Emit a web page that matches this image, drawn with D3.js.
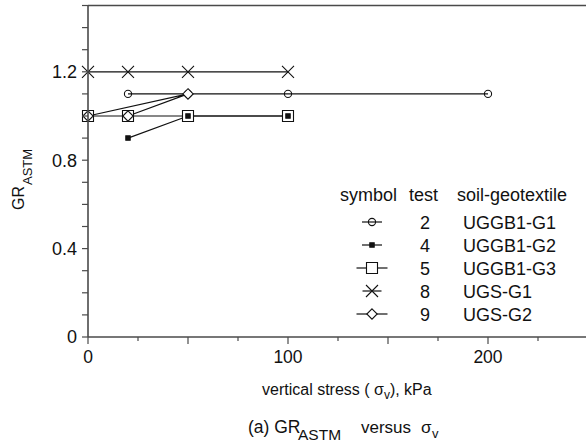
<!DOCTYPE html>
<html>
<head>
<meta charset="utf-8">
<script src="https://cdn.jsdelivr.net/npm/d3@7"></script>
<style>
  html, body { margin: 0; padding: 0; background: #fff; }
  svg { display: block; }
  text { font-family: Arial, "Liberation Sans", sans-serif; fill: #111; }
</style>
</head>
<body>
<svg id="chart" width="586" height="447"></svg>
<script>
// GR_ASTM measured at each vertical stress (kPa) for every test
const stress2 = [20, 50, 100, 200];
const gr2     = [1.1, 1.1, 1.1, 1.1];
const stress4 = [20, 50, 100];
const gr4     = [0.9, 1.0, 1.0];
const stress5 = [0, 20, 50, 100];
const gr5     = [1.0, 1.0, 1.0, 1.0];
const stress8 = [0, 20, 50, 100];
const gr8     = [1.2, 1.2, 1.2, 1.2];
const stress9 = [0, 50, 20];
const gr9     = [1.0, 1.1, 1.0];

const testIds   = ["2", "4", "5", "8", "9"];
const soilNames = ["UGGB1-G1", "UGGB1-G2", "UGGB1-G3", "UGS-G1", "UGS-G2"];
const markers   = ["circle", "dot", "square", "cross", "diamond"];

const xTickLabels = [0, 100, 200];
const yTickLabels = [0, 0.4, 0.8, 1.2];

const svg = d3.select("#chart");
const x = d3.scaleLinear().domain([0, 250]).range([88, 588]);
const y = d3.scaleLinear().domain([0, 1.5]).range([337, 5.5]);

const axisColor = "#4a4a4a";

// marker shapes, centred on (0,0)
function markerPath(kind) {
  switch (kind) {
    case "circle":  return d3.arc()({innerRadius: 0, outerRadius: 3.6, startAngle: 0, endAngle: 2 * Math.PI});
    case "dot":     return "M-2.2,-2.2H2.2V2.2H-2.2Z";
    case "square":  return "M-5.5,-5.5H5.5V5.5H-5.5Z";
    case "cross":   return "M-6,-6L6,6M-6,6L6,-6";
    case "diamond": return "M0,-5.2L5.2,0L0,5.2L-5.2,0Z";
  }
}
function markerFill(kind) {
  if (kind === "dot") return "#111";
  if (kind === "square" || kind === "diamond") return "#fff";
  return "none";
}

const series = [
  {kind: "circle",  xs: stress2, ys: gr2},
  {kind: "square",  xs: stress5, ys: gr5},
  {kind: "dot",     xs: stress4, ys: gr4},
  {kind: "cross",   xs: stress8, ys: gr8},
  {kind: "diamond", xs: stress9, ys: gr9}
];

const line = d3.line().x(d => x(d[0])).y(d => y(d[1]));
const plot = svg.append("g");

// connecting lines
series.forEach(s => {
  plot.append("path")
    .attr("d", line(s.xs.map((v, i) => [v, s.ys[i]])))
    .attr("fill", "none").attr("stroke", "#111").attr("stroke-width", 1.2);
});
// markers
series.forEach(s => {
  plot.selectAll(null).data(s.xs.map((v, i) => [v, s.ys[i]])).enter()
    .append("path")
    .attr("transform", d => `translate(${x(d[0])},${y(d[1])})`)
    .attr("d", markerPath(s.kind))
    .attr("fill", markerFill(s.kind))
    .attr("stroke", "#111").attr("stroke-width", 1.1);
});

// axes
const xAxis = svg.append("g").attr("transform", `translate(0,${y(0)})`);
xAxis.append("line").attr("x1", x(0)).attr("x2", x(250)).attr("stroke", axisColor).attr("stroke-width", 1.6);
xAxis.selectAll(".xt").data(d3.range(0, 251, 25)).enter().append("line")
  .attr("x1", d => x(d)).attr("x2", d => x(d))
  .attr("y1", 0).attr("y2", d => d % 50 === 0 ? 7 : 4)
  .attr("stroke", axisColor).attr("stroke-width", 1.2);
xAxis.selectAll(".xl").data(xTickLabels).enter().append("text")
  .attr("x", d => x(d)).attr("y", 26)
  .attr("text-anchor", "middle").attr("font-size", 17.5)
  .text(d => d);

const yAxis = svg.append("g").attr("transform", `translate(${x(0)},0)`);
yAxis.append("line").attr("y1", y(0)).attr("y2", y(1.5)).attr("stroke", axisColor).attr("stroke-width", 1.6);
yAxis.selectAll(".yt").data(d3.range(0, 16).map(i => i / 10)).enter().append("line")
  .attr("y1", d => y(d)).attr("y2", d => y(d))
  .attr("x1", -6).attr("x2", 0)
  .attr("stroke", axisColor).attr("stroke-width", 1.2);
yAxis.selectAll(".yl").data(yTickLabels).enter().append("text")
  .attr("x", -11).attr("y", d => y(d) + 6.3)
  .attr("text-anchor", "end").attr("font-size", 18)
  .text(d => d === 0 ? "0" : d3.format(".1f")(d));

// top frame line
svg.append("line").attr("x1", x(0)).attr("x2", x(250)).attr("y1", y(1.5)).attr("y2", y(1.5))
  .attr("stroke", axisColor).attr("stroke-width", 1.6);

// y title: GR with subscript ASTM, rotated
svg.append("text")
  .attr("transform", "translate(24,210) rotate(-90)")
  .attr("font-size", 16)
  .text("GR");
svg.append("text")
  .attr("transform", "translate(32,185) rotate(-90)")
  .attr("font-size", 13)
  .text("ASTM");

// x title
const xTitle = svg.append("text").attr("x", 262).attr("y", 395).attr("font-size", 16);
xTitle.append("tspan").text("vertical stress ( σ");
xTitle.append("tspan").attr("font-size", 12).attr("dy", 4).text("v");
xTitle.append("tspan").attr("dy", -4).text("), kPa");

// caption
const capY = 433;
svg.append("text").attr("x", 248).attr("y", capY).attr("font-size", 17.5).text("(a) GR");
svg.append("text").attr("x", 298).attr("y", capY + 7).attr("font-size", 15.5).text("ASTM");
svg.append("text").attr("x", 361).attr("y", capY).attr("font-size", 17).text("versus");
svg.append("text").attr("x", 421).attr("y", capY).attr("font-size", 17).text("σ");
svg.append("text").attr("x", 432).attr("y", capY + 5).attr("font-size", 13).text("v");

// legend
const lg = svg.append("g");
const headerY = 201;
lg.append("text").attr("x", 340).attr("y", headerY).attr("font-size", 18).text("symbol");
lg.append("text").attr("x", 409).attr("y", headerY).attr("font-size", 18).text("test");
lg.append("text").attr("x", 457).attr("y", headerY).attr("font-size", 18).text("soil-geotextile");
const lineHalf = {circle: 10, dot: 10, square: 15.5, cross: 9.5, diamond: 15.5};
testIds.forEach((t, i) => {
  const cy = 222 + i * 23;
  const k = markers[i];
  lg.append("line").attr("x1", 372 - lineHalf[k]).attr("x2", 372 + lineHalf[k])
    .attr("y1", cy).attr("y2", cy).attr("stroke", "#111").attr("stroke-width", 1.2);
  lg.append("path").attr("transform", `translate(372,${cy})`)
    .attr("d", markerPath(k)).attr("fill", markerFill(k))
    .attr("stroke", "#111").attr("stroke-width", 1.1);
  lg.append("text").attr("x", 425).attr("y", cy + 6.5).attr("text-anchor", "middle")
    .attr("font-size", 18).text(t);
  lg.append("text").attr("x", 463).attr("y", cy + 6.5).attr("font-size", 18).text(soilNames[i]);
});
</script>
</body>
</html>
